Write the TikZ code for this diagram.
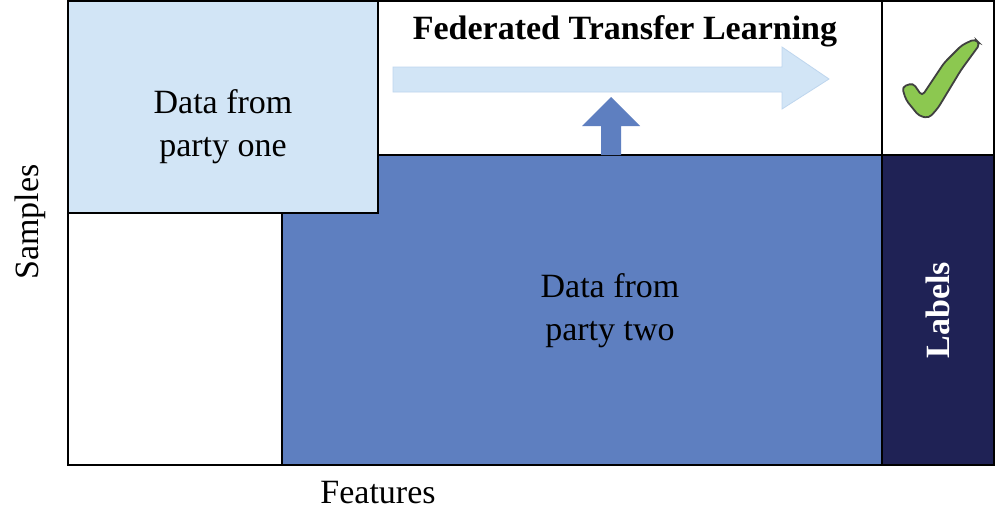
\documentclass[tikz,border=0pt]{standalone}
\usepackage{fontspec}
\setmainfont{Liberation Serif}
\definecolor{lightblu}{RGB}{210,229,246}
\definecolor{lightblubd}{RGB}{190,214,238}
\definecolor{midblu}{RGB}{94,127,192}
\definecolor{navyblu}{RGB}{31,34,85}
\definecolor{chkgreen}{RGB}{140,200,80}
\begin{document}
\begin{tikzpicture}[x=1pt,y=-1pt,
  box/.style={draw=black,line width=2pt,inner sep=0pt,outer sep=0pt},
  txt/.style={font=\fontsize{34}{43}\selectfont,align=center},
]
\useasboundingbox (0,0) rectangle (1000,525);
% outer frame
\node[box,fill=white,anchor=north west,minimum width=926pt,minimum height=464pt] (frame) at (68,1) {};
% party two
\node[box,fill=midblu,anchor=north west,minimum width=600pt,minimum height=310pt] (two) at (282,155) {};
% labels column
\node[box,fill=navyblu,anchor=north west,minimum width=112pt,minimum height=310pt] (lab) at (882,155) {};
% party one
\node[box,fill=lightblu,anchor=north west,minimum width=310pt,minimum height=212pt] (one) at (68,1) {};
% divider of check cell
\coordinate (ctop) at (882,1);
\draw[line width=2pt] (ctop) -- (lab.north west);
\draw[line width=2pt] (one.east |- two.north) -- (two.north east);
% texts
\node[txt] (t1) at (223,127) {Data from\\party one};
\node[txt] (t2) at (610,311) {Data from\\party two};
\node[txt,font=\fontsize{34}{43}\selectfont\bfseries,text=white,rotate=90] (t3) at (lab.center) {Labels};
\node[txt,rotate=90] (ys) at (30,222) {Samples};
\node[txt] (xs) at (378,493) {Features};
\node[txt,font=\fontsize{34}{43}\selectfont\bfseries] (title) at (625,31) {Federated Transfer Learning};
% big right arrow
\draw[fill=lightblu,draw=lightblubd,line width=0.8pt]
  (393,67) -- (782,67) -- (782,47) -- (829,79) -- (782,109) -- (782,92) -- (393,92) -- cycle;
% up arrow
\fill[midblu] (601,155) -- (601,126) -- (582,126) -- (611,97) -- (640,126) -- (621,126) -- (621,155) -- cycle;
% check mark
\draw[fill=chkgreen,draw=black!75,line width=1.8pt,rounded corners=4pt]
  (902,87) -- (913,83) -- (922,96) -- (944,63) -- (962,45) -- (975,39) -- (980,44) -- (961,70) -- (938,108) -- (929,118) -- (919,116) -- (906,100) -- cycle;
\end{tikzpicture}
\end{document}
